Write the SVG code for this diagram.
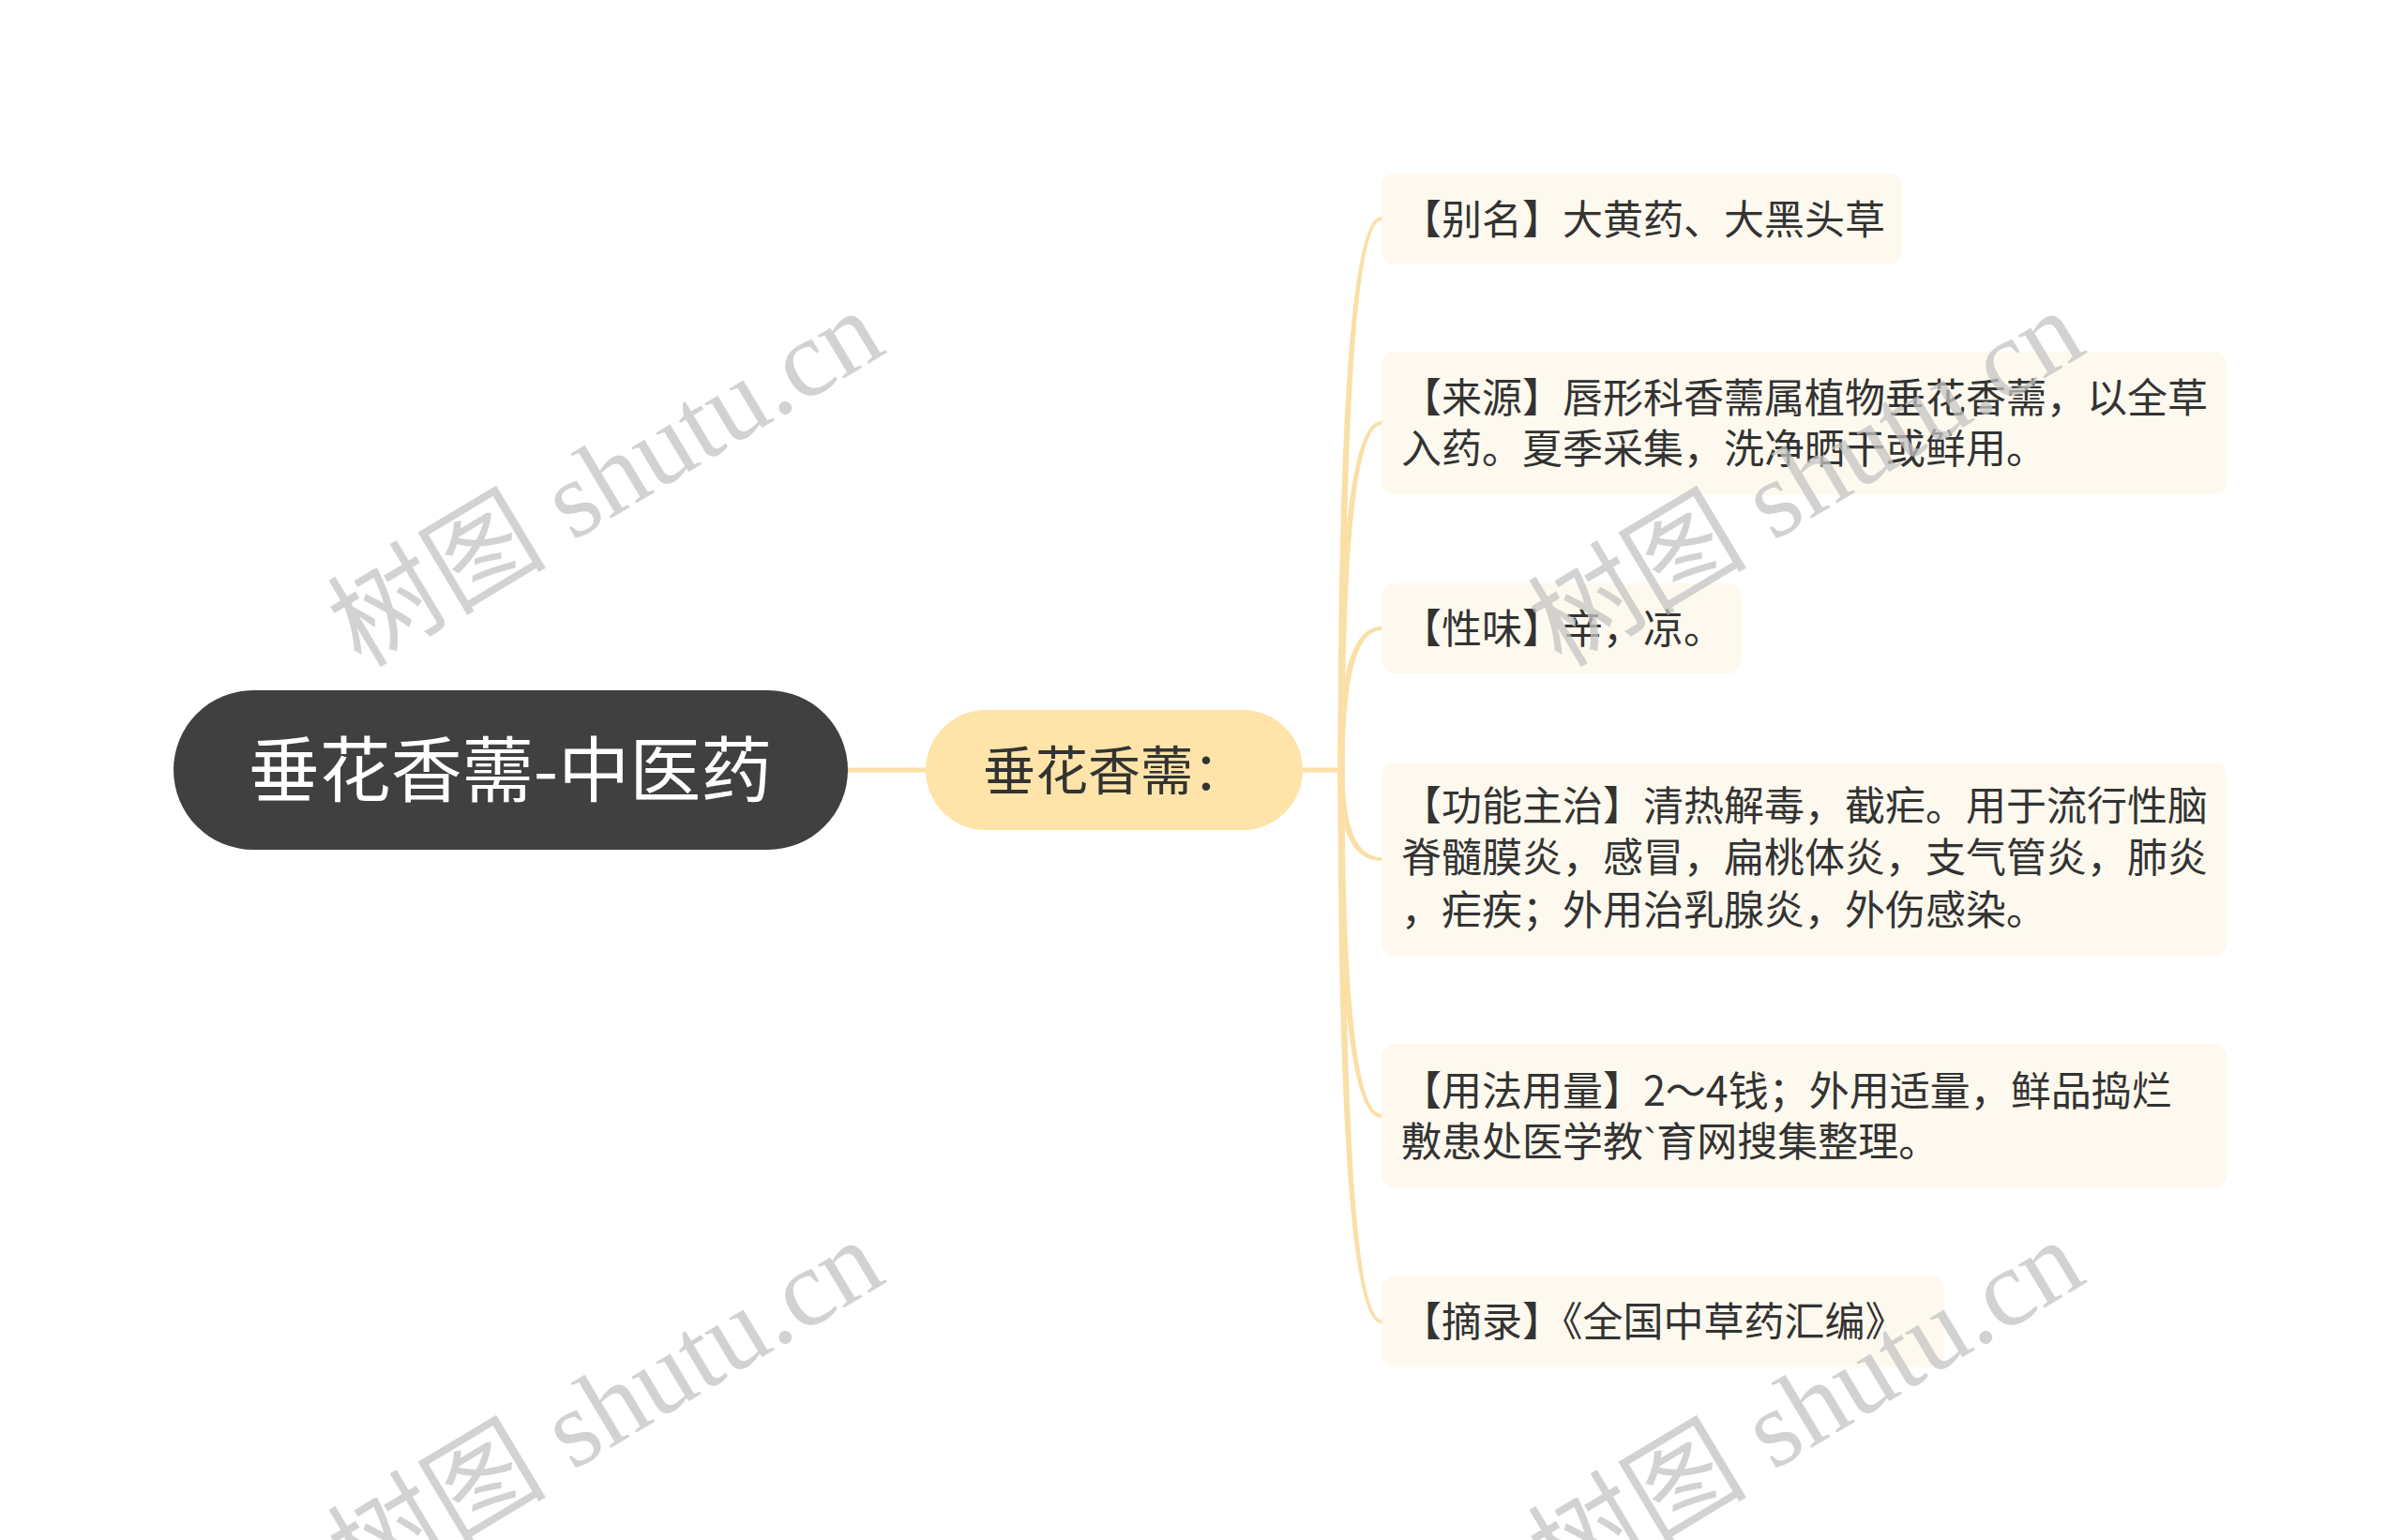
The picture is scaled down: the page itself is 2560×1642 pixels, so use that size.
<svg xmlns="http://www.w3.org/2000/svg" width="2560" height="1642" viewBox="0 0 2560 1642">
  <style>
    .cjk { font-family: "Noto Sans CJK SC", "Noto Sans", sans-serif; }
    .root-box { fill: #404040; }
    .root-text { fill: #ffffff; font-size: 76px; }
    .mid-box { fill: #FEE4A8; }
    .mid-text { fill: #333333; font-size: 56px; }
    .leaf-box { fill: #FDF9EE; }
    .leaf-text { fill: #333333; font-size: 43px; }
    .narrow { font-family: "Liberation Sans", sans-serif; }
    .link { fill: #FADFA6; }
    .link-line { stroke: #FADFA6; stroke-width: 5; fill: none; }
    .wm { font-family: "Liberation Serif", "Noto Sans CJK SC", serif; font-size: 117px; fill: #c4c4c4; opacity: 0.75; }
  </style>
  <rect x="0" y="0" width="2560" height="1642" fill="#ffffff"/>

  <g id="connectors">
    <line class="link-line" x1="900" y1="821" x2="990" y2="821"/>
    <line class="link-line" x1="1385" y1="821" x2="1432" y2="821"/>
    <path class="link" d="M1426.5,821 Q1426.5,231 1473,231 L1473,235 Q1433.5,235 1433.5,821 Z"/>
    <path class="link" d="M1426.5,821 Q1426.5,449 1473,449 L1473,453 Q1433.5,453 1433.5,821 Z"/>
    <path class="link" d="M1426.5,821 Q1426.5,668 1473,668 L1473,672 Q1433.5,672 1433.5,821 Z"/>
    <path class="link" d="M1426.5,821 Q1426.5,918 1473,918 L1473,914 Q1433.5,914 1433.5,821 Z"/>
    <path class="link" d="M1426.5,821 Q1426.5,1192 1473,1192 L1473,1188 Q1433.5,1188 1433.5,821 Z"/>
    <path class="link" d="M1426.5,821 Q1426.5,1411 1473,1411 L1473,1407 Q1433.5,1407 1433.5,821 Z"/>
  </g>

  <g id="root">
    <rect class="root-box" x="185" y="736" width="719" height="170" rx="85" ry="85"/>
    <text class="cjk root-text" x="544" y="849" text-anchor="middle">垂花香薷-中医药</text>
  </g>

  <g id="mid">
    <rect class="mid-box" x="987" y="757" width="402" height="128" rx="64" ry="64"/>
    <text class="cjk mid-text" x="1188" y="842" text-anchor="middle">垂花香薷：</text>
  </g>

  <g id="leaf-alias">
    <rect class="leaf-box" x="1473" y="185" width="555" height="97" rx="14" ry="14"/>
    <text class="cjk leaf-text" x="1494" y="250">【别名】大黄药、大黑头草</text>
  </g>

  <g id="leaf-source">
    <rect class="leaf-box" x="1473" y="375" width="901" height="153" rx="14" ry="14"/>
    <text class="cjk leaf-text" x="1494" y="440">【来源】唇形科香薷属植物垂花香薷，以全草</text>
    <text class="cjk leaf-text" x="1494" y="494">入药。夏季采集，洗净晒干或鲜用。</text>
  </g>

  <g id="leaf-nature">
    <rect class="leaf-box" x="1473" y="622" width="384" height="96" rx="14" ry="14"/>
    <text class="cjk leaf-text" x="1494" y="686">【性味】辛，凉。</text>
  </g>

  <g id="leaf-function">
    <rect class="leaf-box" x="1473" y="813" width="901" height="207" rx="14" ry="14"/>
    <text class="cjk leaf-text" x="1494" y="875">【功能主治】清热解毒，截疟。用于流行性脑</text>
    <text class="cjk leaf-text" x="1494" y="930">脊髓膜炎，感冒，扁桃体炎，支气管炎，肺炎</text>
    <text class="cjk leaf-text" x="1494" y="986">，疟疾；外用治乳腺炎，外伤感染。</text>
  </g>

  <g id="leaf-usage">
    <rect class="leaf-box" x="1473" y="1113" width="901" height="154" rx="14" ry="14"/>
    <text class="cjk leaf-text" x="1494" y="1179">【用法用量】2～4钱；外用适量，鲜品捣烂</text>
    <text class="cjk leaf-text" x="1494" y="1233">敷患处医学教<tspan class="narrow">`</tspan>育网搜集整理。</text>
  </g>

  <g id="leaf-excerpt">
    <rect class="leaf-box" x="1473" y="1360" width="600" height="98" rx="14" ry="14"/>
    <text class="cjk leaf-text" x="1494" y="1425">【摘录】《全国中草药汇编》</text>
  </g>

  <g id="watermarks">
    <text class="wm" x="0" y="0" text-anchor="middle" transform="translate(666,544) rotate(-31)">树图 shutu.cn</text>
    <text class="wm" x="0" y="0" text-anchor="middle" transform="translate(1946,544) rotate(-31)">树图 shutu.cn</text>
    <text class="wm" x="0" y="0" text-anchor="middle" transform="translate(666,1535) rotate(-31)">树图 shutu.cn</text>
    <text class="wm" x="0" y="0" text-anchor="middle" transform="translate(1946,1535) rotate(-31)">树图 shutu.cn</text>
  </g>
</svg>
